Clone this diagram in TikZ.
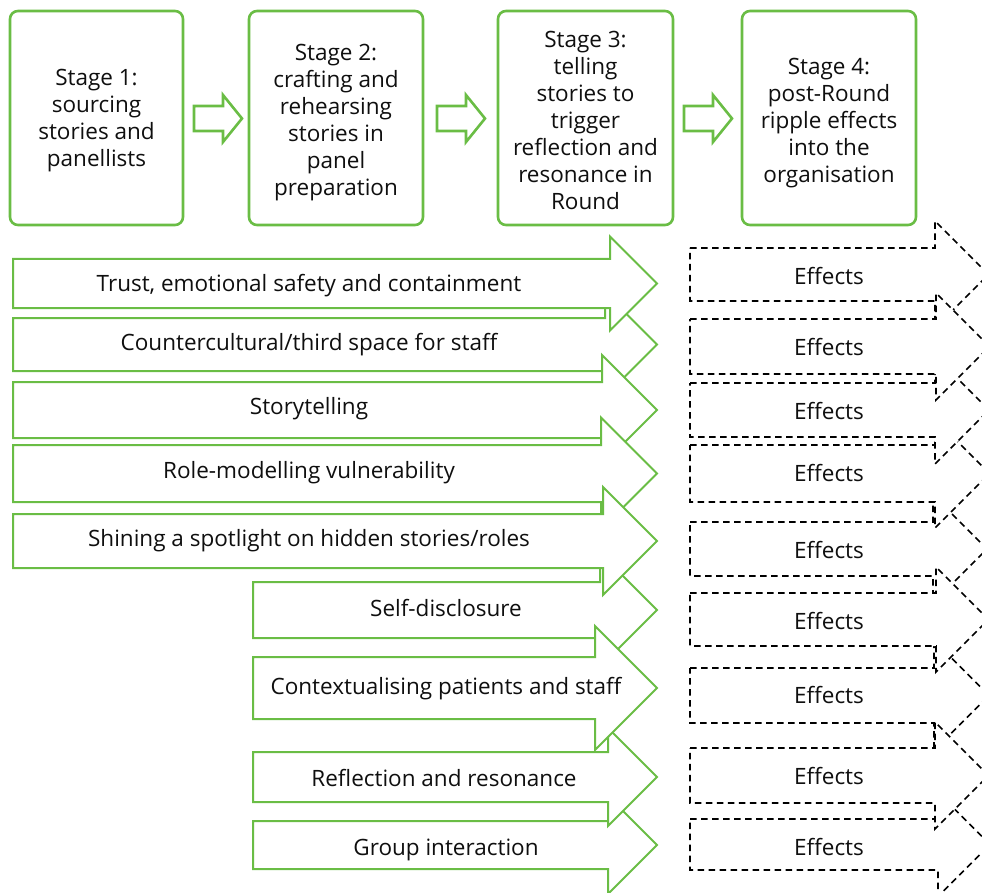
\documentclass[tikz,border=0pt]{standalone}
\usepackage{fontspec}
\setmainfont{Open Sans}
\definecolor{grn}{RGB}{106,189,69}
\definecolor{txt}{RGB}{15,15,15}
\tikzset{
  garrow/.style={draw=grn, line width=2pt, fill=white, line join=miter},
  sarrow/.style={draw=grn, line width=2.6pt, fill=white, line join=miter},
  earrow/.style={draw=black, line width=1.7pt, fill=white, dash pattern=on 6.5pt off 4.5pt},
  stagebox/.style={draw=grn, line width=2.6pt, rounded corners=8pt, fill=white,
    minimum width=174pt, minimum height=214pt, inner sep=0pt},
  stagetext/.style={align=center, text=txt, inner sep=0pt,
    font=\fontsize{22.5}{27}\selectfont},
  lbl/.style={anchor=base, inner sep=0pt, text=txt, font=\fontsize{22.5}{27}\selectfont},
}
% #1 style, #2 left, #3 top, #4 bottom, #5 neck, #6 tip, #7 half head height
\newcommand{\blockarrow}[7]{%
  \path[#1] (#2,#3) -- (#5,#3) -- (#5,{(#3+#4)/2-#7}) -- (#6,{(#3+#4)/2})
    -- (#5,{(#3+#4)/2+#7}) -- (#5,#4) -- (#2,#4) -- cycle;}
\begin{document}
\begin{tikzpicture}[x=1pt,y=-1pt]
\useasboundingbox (0,0) rectangle (982,893);
\clip (0,0) rectangle (982,893);

% stage boxes
\node[stagebox, minimum width=173pt] (s1) at (96.5,118) {};
\node[stagebox] (s2) at (336,118) {};
\node[stagebox, minimum width=175pt] (s3) at (585.5,118) {};
\node[stagebox] (s4) at (829,118) {};
\node[stagetext] (t1) at ([yshift=-3pt]s1.center) {Stage 1:\\sourcing\\stories and\\panellists};
\node[stagetext] (t2) at ([yshift=-5pt]s2.center) {Stage 2:\\crafting and\\rehearsing\\stories in\\panel\\preparation};
\node[stagetext] (t3) at ([yshift=-2pt]s3.center) {Stage 3:\\telling\\stories to\\trigger\\reflection and\\resonance in\\Round};
\node[stagetext] (t4) at ([yshift=-5pt]s4.center) {Stage 4:\\post-Round\\ripple effects\\into the\\organisation};

% arrows between stages
\blockarrow{sarrow}{194}{106}{131}{223}{242}{23.5}
\blockarrow{sarrow}{437}{106}{131}{466}{485}{23.5}
\blockarrow{sarrow}{684}{106}{131}{713}{732}{23.5}

% green mechanism arrows (drawn in stacking order)
\blockarrow{garrow}{13}{318}{371}{605}{657}{52}
\blockarrow{garrow}{13}{259}{308}{610}{657}{47}
\blockarrow{garrow}{13}{382}{438}{602}{657}{55}
\blockarrow{garrow}{13}{445}{502}{601}{657}{56}
\blockarrow{garrow}{253}{582}{638}{600}{657}{57}
\blockarrow{garrow}{13}{514}{568}{603}{657}{54}
\blockarrow{garrow}{253}{821}{869}{608}{657}{49}
\blockarrow{garrow}{253}{752}{802}{608}{657}{49}
\blockarrow{garrow}{253}{657}{719}{595}{657}{62}

\node[lbl] (m1) at (309,291.7) {Trust, emotional safety and containment};
\node[lbl] (m2) at (309,350) {Countercultural/third space for staff};
\node[lbl] (m3) at (309,414) {Storytelling};
\node[lbl] (m4) at (309,478) {Role-modelling vulnerability};
\node[lbl] (m5) at (309,546.7) {Shining a spotlight on hidden stories/roles};
\node[lbl] (m6) at (446,616) {Self-disclosure};
\node[lbl] (m7) at (446,694) {Contextualising patients and staff};
\node[lbl] (m8) at (444,786) {Reflection and resonance};
\node[lbl] (m9) at (446,855) {Group interaction};

% dashed effects arrows (drawn in stacking order)
\blockarrow{earrow}{690}{248}{301}{935}{988.5}{53.5}
\blockarrow{earrow}{690}{522}{576}{933}{987}{54}
\blockarrow{earrow}{690}{445}{502}{935}{989.5}{54.5}
\blockarrow{earrow}{690}{383}{437}{935}{989}{54}
\blockarrow{earrow}{690}{319}{374}{936}{989.5}{53.5}
\blockarrow{earrow}{690}{668}{723}{934}{989}{55}
\blockarrow{earrow}{690}{819}{870}{938}{990}{52}
\blockarrow{earrow}{690}{593}{646}{936}{988.5}{52.5}
\blockarrow{earrow}{690}{748}{803}{935}{988.5}{53.5}

\node[lbl] (e1) at (829,284.3) {Effects};
\node[lbl] (e2) at (829,355) {Effects};
\node[lbl] (e3) at (829,419) {Effects};
\node[lbl] (e4) at (829,481.7) {Effects};
\node[lbl] (e5) at (829,558) {Effects};
\node[lbl] (e6) at (829,629) {Effects};
\node[lbl] (e7) at (829,703) {Effects};
\node[lbl] (e8) at (829,784) {Effects};
\node[lbl] (e9) at (829,855) {Effects};
\end{tikzpicture}
\end{document}
